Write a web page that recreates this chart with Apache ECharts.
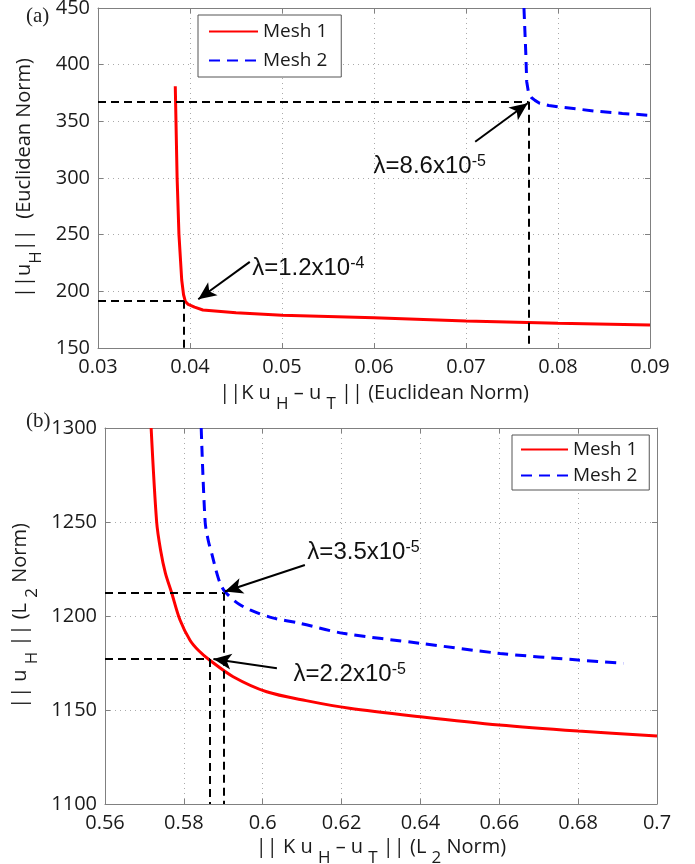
<!DOCTYPE html>
<html>
<head>
<meta charset="utf-8">
<script src="https://cdn.jsdelivr.net/npm/echarts@6/dist/echarts.min.js"></script>
<style>
  html, body { margin: 0; padding: 0; background: #fff; }
  #el { width: 695px; height: 864px; }
</style>
</head>
<body>
<div id="el"></div>
<script>
// (a) Euclidean norm
const aMesh1X = [0.0384, 0.0386, 0.0388, 0.0391, 0.0393, 0.0395, 0.0398, 0.0405, 0.0414, 0.045, 0.05, 0.06, 0.07, 0.08, 0.09];
const aMesh1Y = [381, 300, 250, 210, 197, 191, 188.5, 186, 183.5, 181, 179, 176.7, 173.8, 171.8, 170.3];
const aMesh2X = [0.0763, 0.0765, 0.0766, 0.0768, 0.0771, 0.0775, 0.078, 0.079, 0.08, 0.082, 0.084, 0.087, 0.09];
const aMesh2Y = [450, 410, 385, 375, 371, 368.5, 366, 364, 362.8, 361, 359, 357, 355.3];

// (b) L2 norm
const bMesh1X = [0.5717, 0.5731, 0.5741, 0.5753, 0.5769, 0.579, 0.5816, 0.5838, 0.5865, 0.5925, 0.601, 0.611, 0.622, 0.64, 0.66, 0.68, 0.7];
const bMesh1Y = [1300, 1250, 1235, 1223, 1212.4, 1198, 1187, 1181.5, 1176.6, 1167.7, 1159.7, 1155, 1150.9, 1146.4, 1142, 1138.8, 1136.2];
const bMesh2X = [0.5844, 0.5854, 0.5862, 0.5871, 0.5882, 0.5892, 0.5904, 0.5935, 0.5968, 0.6025, 0.6095, 0.6204, 0.6399, 0.6602, 0.68, 0.6915];
const bMesh2Y = [1300, 1250, 1240, 1233, 1224, 1217.4, 1213, 1207, 1203.2, 1199, 1196.1, 1190.8, 1185.5, 1180.1, 1176.6, 1174.8];

// dashed guide lines [x1, y1, x2, y2]
const aGuides = [[0.03, 367.3, 0.0768, 367.3], [0.0768, 367.3, 0.0768, 150], [0.03, 191.7, 0.0394, 191.7], [0.0393, 191.7, 0.0393, 150]];
const bGuides = [[0.56, 1212.4, 0.59, 1212.4], [0.59, 1212.4, 0.59, 1100], [0.56, 1177.1, 0.5866, 1177.1], [0.5866, 1177.1, 0.5866, 1100]];
// arrows [tailX, tailY, headX, headY]
const aArrows = [[0.071, 332, 0.0767, 366], [0.0465, 226, 0.0409, 193]];
const bArrows = [[0.6107, 1227.1, 0.5904, 1213], [0.6036, 1172.2, 0.5875, 1177.1]];
// lambda labels [x, y, mantissa, exponent]
const aLambdas = [[0.0599, 310.6, '8.6x10', '-5'], [0.0467, 220.6, '1.2x10', '-4']];
const bLambdas = [[0.6112, 1234, '3.5x10', '-5'], [0.6077, 1169, '2.2x10', '-5']];

const aXTicks = {min: 0.03, max: 0.09, interval: 0.01};
const aYTicks = {min: 150, max: 450, interval: 50};
const bXTicks = {min: 0.56, max: 0.7, interval: 0.02};
const bYTicks = {min: 1100, max: 1300, interval: 50};

const FONT = 'Open Sans';
const AXC = '#808080';

function pairs(xs, ys) { return xs.map((x, i) => [x, ys[i]]); }

// subscripts: main text hugs the top of the line box, subscript the bottom
const nameRich = {
  n: {fontFamily: FONT, fontSize: 20, color: '#1a1a1a', lineHeight: 22, verticalAlign: 'top'},
  s: {fontFamily: FONT, fontSize: 17, color: '#1a1a1a', lineHeight: 30, verticalAlign: 'bottom'}
};

function mainX(grid, t, name, gap) {
  return {
    gridIndex: grid, type: 'value', min: t.min, max: t.max, interval: t.interval,
    name: name, nameLocation: 'middle', nameGap: gap,
    nameTextStyle: {rich: nameRich},
    axisLine: {show: true, lineStyle: {color: AXC, width: 1}},
    axisTick: {show: true, inside: true, length: 5, lineStyle: {color: AXC}},
    axisLabel: {fontFamily: FONT, fontSize: 20, color: '#1a1a1a', margin: 9,
      formatter: v => String(+v.toFixed(2))},
    splitLine: {show: true, lineStyle: {type: [1, 4], color: '#aaa'}}
  };
}
function mainY(grid, t, name, gap) {
  return {
    gridIndex: grid, type: 'value', min: t.min, max: t.max, interval: t.interval,
    name: name, nameLocation: 'middle', nameGap: gap, nameRotate: 90,
    nameTextStyle: {rich: nameRich},
    axisLine: {show: true, lineStyle: {color: AXC, width: 1}},
    axisTick: {show: true, inside: true, length: 5, lineStyle: {color: AXC}},
    axisLabel: {fontFamily: FONT, fontSize: 20, color: '#1a1a1a', margin: 8,
      formatter: v => String(v)},
    splitLine: {show: true, lineStyle: {type: [1, 4], color: '#aaa'}}
  };
}
function boxAxis(grid, t, pos) {
  return {
    gridIndex: grid, type: 'value', min: t.min, max: t.max, interval: t.interval, position: pos,
    axisLine: {show: true, onZero: false, lineStyle: {color: AXC, width: 1}},
    axisTick: {show: true, inside: true, length: 5, lineStyle: {color: AXC}},
    axisLabel: {show: false}, splitLine: {show: false}
  };
}

function guideLines(list) {
  return list.map(g => [{coord: [g[0], g[1]]}, {coord: [g[2], g[3]]}]);
}
function lambdaPoints(list) {
  return list.map(l => ({
    coord: [l[0], l[1]], symbol: 'circle', symbolSize: 1, itemStyle: {color: 'rgba(0,0,0,0)'},
    label: {show: true, position: 'right', distance: 0,
      formatter: '{m|λ=' + l[2] + '}{e|' + l[3] + '}'}
  }));
}
const lambdaRich = {
  m: {fontFamily: 'Liberation Sans', fontSize: 24, color: '#111', lineHeight: 25, verticalAlign: 'bottom'},
  e: {fontFamily: 'Liberation Sans', fontSize: 16, color: '#111', lineHeight: 16, verticalAlign: 'top'}
};

function annotated(base, guides, arrows, lambdas) {
  base.markLine = {
    silent: true, symbol: 'none', animation: false,
    label: {show: false},
    lineStyle: {color: '#000', type: [8, 5], width: 2},
    data: guideLines(guides).concat(arrows.map(a => [
      {coord: [a[0], a[1]], symbol: 'none', lineStyle: {type: 'solid', width: 2}},
      {coord: [a[2], a[3]], symbol: 'arrow', symbolSize: [12, 18]}
    ]))
  };
  base.markPoint = {silent: true, animation: false, label: {rich: lambdaRich}, data: lambdaPoints(lambdas)};
  return base;
}

function lineSeries(name, grid, data, color, dashed, smooth) {
  return {
    name: name, type: 'line', xAxisIndex: grid * 2, yAxisIndex: grid * 2,
    data: data, symbol: 'none', showSymbol: false, animation: false, z: 3,
    smooth: smooth || false,
    lineStyle: {color: color, width: 3, type: dashed ? [11, 7] : 'solid'},
    itemStyle: {color: color}
  };
}

function legendAt(left, top, gap, pad, w) {
  return {
    data: ['Mesh 1', 'Mesh 2'], orient: 'vertical', left: left, top: top,
    itemWidth: w, itemHeight: 14, itemGap: gap, padding: pad,
    borderColor: '#555', borderWidth: 1, backgroundColor: '#fff',
    itemStyle: {color: 'rgba(0,0,0,0)', borderWidth: 0},
    textStyle: {fontFamily: FONT, fontSize: 19, color: '#1a1a1a'}
  };
}

const option = {
  backgroundColor: '#fff',
  animation: false,
  title: [
    {text: '(a)', left: 21, top: 1, textStyle: {fontFamily: 'Liberation Serif', fontSize: 21, fontWeight: 'normal', color: '#222'}},
    {text: '(b)', left: 21, top: 406, textStyle: {fontFamily: 'Liberation Serif', fontSize: 21, fontWeight: 'normal', color: '#222'}}
  ],
  grid: [
    {left: 98, top: 8, width: 552, height: 340, outerBoundsMode: 'none'},
    {left: 105, top: 428, width: 552, height: 376, outerBoundsMode: 'none'}
  ],
  xAxis: [
    mainX(0, aXTicks, '{n|||K u }{s|H}{n| – u }{s|T}{n| || (Euclidean Norm)}', 35),
    boxAxis(0, aXTicks, 'top'),
    mainX(1, bXTicks, '{n||| K u }{s|H}{n| – u }{s|T}{n| || (L }{s|2}{n| Norm)}', 33),
    boxAxis(1, bXTicks, 'top')
  ],
  yAxis: [
    mainY(0, aYTicks, '{n|||u}{s|H}{n|||  (Euclidean Norm)}', 52),
    boxAxis(0, aYTicks, 'right'),
    mainY(1, bYTicks, '{n||| u }{s|H}{n| || (L }{s|2}{n| Norm)}', 60),
    boxAxis(1, bYTicks, 'right')
  ],
  legend: [
    legendAt(198, 15, 10, [7, 14, 7, 10], 49),
    legendAt(512, 435, 7, [5, 12, 5, 8], 47)
  ],
  series: [
    annotated(lineSeries('Mesh 1', 0, pairs(aMesh1X, aMesh1Y), '#ff0000', false), aGuides, aArrows, aLambdas),
    lineSeries('Mesh 2', 0, pairs(aMesh2X, aMesh2Y), '#0000ff', true),
    annotated(lineSeries('Mesh 1', 1, pairs(bMesh1X, bMesh1Y), '#ff0000', false, 0.3), bGuides, bArrows, bLambdas),
    lineSeries('Mesh 2', 1, pairs(bMesh2X, bMesh2Y), '#0000ff', true, 0.3)
  ]
};

const myChart = echarts.init(document.getElementById('el'));
option && myChart.setOption(option);
</script>
</body>
</html>
